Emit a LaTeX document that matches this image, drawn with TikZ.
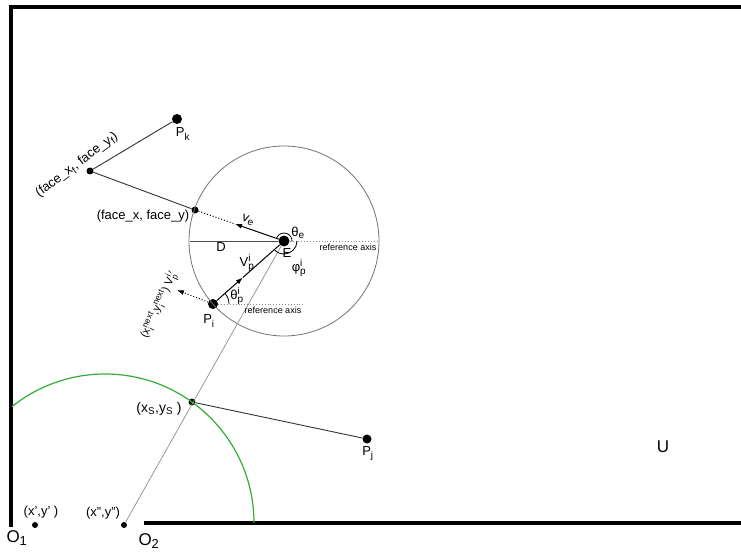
\documentclass[tikz,border=0pt]{standalone}
\usepackage{fontspec}
\setmainfont{Liberation Sans}
\usetikzlibrary{arrows.meta, calc}
\DeclareMathSizes{13}{13}{10}{8}
\DeclareMathSizes{11}{11}{8.5}{7}
\DeclareMathSizes{17}{17}{13}{10}

\tikzset{
  dot/.style={circle, fill=black, inner sep=0pt, minimum size=#1},
  dot/.default=10pt,
  lbl/.style={font=\fontsize{13}{15}\selectfont, inner sep=0pt},
  small lbl/.style={font=\fontsize{9}{11}\selectfont, inner sep=0pt},
  big lbl/.style={font=\fontsize{17}{19}\selectfont, inner sep=0pt},
  wall/.style={line width=4.5pt},
  ref axis/.style={dotted, black!45, line width=0.9pt},
  tip/.style={-{Latex[length=7pt,width=5pt]}},
}

\begin{document}
\begin{tikzpicture}[x=1pt, y=-1pt]
    \useasboundingbox (0,0) rectangle (741,556);
    % walls of the space U
    \draw[wall] (11,527) -- (11,7) -- (741,7);
    \draw[wall] (144,523) -- (741,523);

    % points
    \node[dot] (Pk) at (177,119) {};
    \node[dot=7pt] (fxf) at (90,171) {};
    \node[dot=7pt] (fxy) at (195,210) {};
    \node[dot=11pt] (E) at (284,241) {};
    \node[dot] (Pi) at (213,304) {};
    \node[dot=7pt] (xs) at (192,402) {};
    \node[dot=9pt] (Pj) at (367,439) {};
    \node[dot=6pt] (x1) at (35,525) {};
    \node[dot=6pt] (x2) at (124,525) {};
    \coordinate (Dl) at (190,241);
    \coordinate (refE) at (378,241);
    \coordinate (refP) at (305,304);
    \coordinate (ve) at ($(E)!0.55!(fxy)$);
    \coordinate (vp) at ($(Pi)!0.42!(E)$);
    \coordinate (next) at (177,290);

    % view circle and green arc
    \draw[black!55, line width=0.8pt] (E) circle[radius=95pt];
    \draw[green!60!black!80!white, line width=1.2pt] (254,523) arc[start angle=0, end angle=128.6, radius=149pt];

    % connectors
    \draw[black!80, line width=0.9pt] (Pk) -- (fxf) -- (fxy);
    \draw[dotted, line width=1pt] (fxy) -- (ve);
    \draw[tip, line width=1pt] (E) -- (ve);
    \draw[black!70, line width=0.9pt] (Dl) -- (E);
    \draw[ref axis] (E) -- (refE);
    \draw[ref axis] (Pi) -- (refP);
    \draw[tip, line width=1pt] (Pi) -- (vp);
    \draw[line width=1pt] (vp) -- (E);
    \draw[dotted, line width=1pt, tip] (Pi) -- (next);
    \draw[black!45, line width=0.7pt] (x2) -- (E);
    \draw[black!80, line width=0.9pt] (xs) -- (Pj);

    % angle arcs
    \draw[line width=0.8pt] ($(E)+(160:8pt)$) arc[start angle=160, end angle=-5, radius=8pt];
    \draw[line width=0.8pt] ($(E)+(0:13pt)$) arc[start angle=0, end angle=-138, radius=13pt];
    \draw[line width=0.8pt] ($(Pi)+(0:16pt)$) arc[start angle=0, end angle=42, radius=16pt];

    % labels
    \node[lbl] (lPk) at (183,134) {P$_{\mathrm{k}}$};
    \node[lbl, rotate=37] (lfxf) at (77,165) {(face\_x$_{\mathrm{f}}$, face\_y$_{\mathrm{f}}$)};
    \node[lbl] (lfxy) at (143,216) {(face\_x, face\_y)};
    \node[lbl, rotate=-19] (lve) at (248,220) {v$_{\mathrm{e}}$};
    \node[lbl] (lD) at (221,247) {D};
    \node[lbl] (lE) at (287,253) {E};
    \node[lbl] (lte) at (298,233) {θ$_{\mathrm{e}}$};
    \node[lbl] (lphi) at (299,268) {φ$^{\mathrm{i}}_{\mathrm{p}}$};
    \node[small lbl] (lrefE) at (348,247) {reference axis};
    \node[lbl] (lvp) at (247,263) {V$^{\mathrm{i}}_{\mathrm{p}}$};
    \node[lbl] (ltp) at (237,296) {θ$^{\mathrm{i}}_{\mathrm{p}}$};
    \node[small lbl] (lrefP) at (273,310) {reference axis};
    \node[lbl] (lPi) at (209,321) {P$_{\mathrm{i}}$};
    \node[lbl, font=\fontsize{11}{13}\selectfont, rotate=65] (lnext) at (159,305)
        {(x$^{\mathrm{next}}_{\mathrm{i}}$,y$^{\mathrm{next}}_{\mathrm{i}}$) V$^{\mathrm{i}\,\prime}_{\mathrm{p}}$};
    \node[lbl, font=\fontsize{14}{16}\selectfont] (lxs) at (159,409) {(x$_{\mathrm{S}}$,y$_{\mathrm{S}}$ )};
    \node[lbl] (lPj) at (368,454) {P$_{\mathrm{j}}$};
    \node[lbl] (lx1) at (41,512) {(x’,y’ )};
    \node[lbl] (lx2) at (103,513) {(x”,y”)};
    \node[big lbl] (lO1) at (17,538) {O$_{\mathrm{1}}$};
    \node[big lbl] (lO2) at (149,541) {O$_{\mathrm{2}}$};
    \node[big lbl] (lU) at (663,447) {U};
\end{tikzpicture}
\end{document}
